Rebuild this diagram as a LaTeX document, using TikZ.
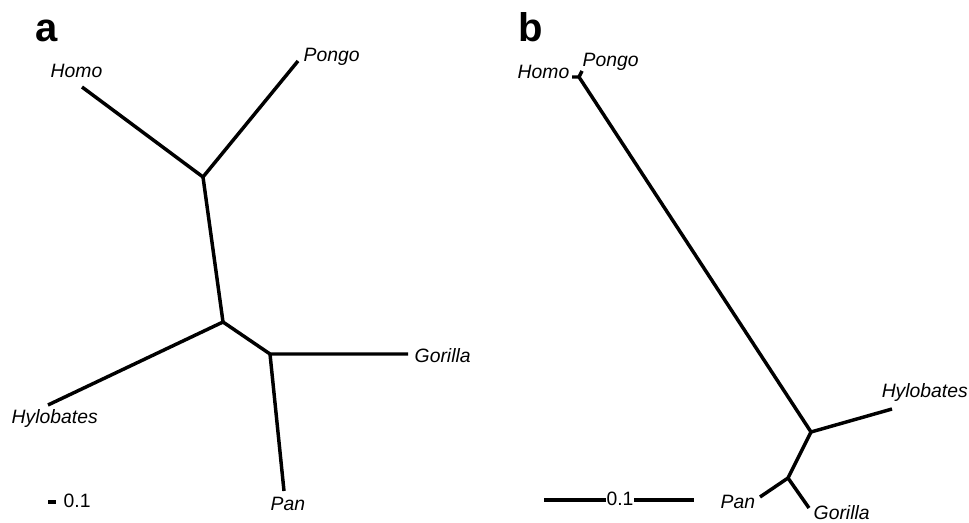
\documentclass[tikz,border=0pt]{standalone}
\usepackage{fontspec}
\setmainfont{Liberation Sans}
\begin{document}
\begin{tikzpicture}[x=0.75pt, y=-0.75pt, line width=2.6pt, line join=round,
	taxon/.style={font=\fontsize{14.5}{17}\selectfont\itshape, inner sep=0pt, anchor=base west},
	panel/.style={font=\fontsize{30}{32}\selectfont\bfseries, inner sep=0pt, anchor=base west},
	scalelab/.style={font=\fontsize{14.5}{16}\selectfont, inner sep=0pt}]
	\useasboundingbox (0,0) rectangle (969,523);
	% panel a
	\node[panel] (labA) at (34,42) {a};
	\coordinate (a1) at (203,177);
	\coordinate (a2) at (223,322);
	\coordinate (a3) at (270,354);
	\coordinate (homoA) at (82,87);
	\coordinate (pongoA) at (298,61);
	\coordinate (hyloA) at (48,405);
	\coordinate (gorA) at (408,354);
	\coordinate (panA) at (284,491);
	\draw (homoA) -- (a1) -- (pongoA);
	\draw (a1) -- (a2) -- (hyloA);
	\draw (a2) -- (a3) -- (gorA);
	\draw (a3) -- (panA);
	\foreach \pos/\name in {{(49,78)}/Homo, {(302,62)}/Pongo, {(10,423)}/Hylobates, {(413,363)}/Gorilla, {(269,510)}/Pan}
	\node[taxon] (t\name A) at \pos {\name};
	\coordinate (sa1) at (48,502);
	\coordinate (sa2) at (56,502);
	\draw (sa1) -- (sa2);
	\node[scalelab, anchor=base west] (scA) at (62,507) {0.1};
	% panel b
	\node[panel] (labB) at (517,42) {b};
	\coordinate (b1) at (579,77);
	\coordinate (b2) at (811,432);
	\coordinate (b3) at (788,478);
	\coordinate (homoB) at (572,77);
	\coordinate (pongoB) at (582,71);
	\coordinate (hyloB) at (892,409);
	\coordinate (panB) at (760,497);
	\coordinate (gorB) at (809,508);
	\draw (homoB) -- (b1) -- (pongoB);
	\draw (b1) -- (b2) -- (hyloB);
	\draw (b2) -- (b3) -- (panB);
	\draw (b3) -- (gorB);
	\foreach \pos/\name in {{(516,79)}/Homo, {(581,67)}/Pongo, {(880,397)}/Hylobates, {(812,519)}/Gorilla, {(719,508)}/Pan}
	\node[taxon] (t\name B) at \pos {\name};
	\coordinate (sb1) at (544,500);
	\coordinate (sb2) at (694,500);
	\draw (sb1) -- (sb2);
	\node[scalelab, anchor=base, fill=white, inner xsep=0.5pt] (scB) at (620,505) {0.1};
\end{tikzpicture}
\end{document}
